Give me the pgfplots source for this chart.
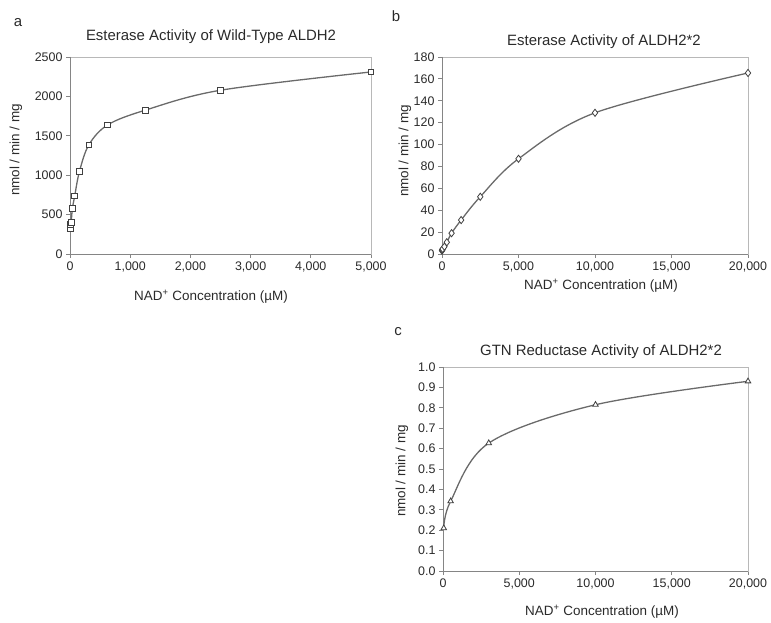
\documentclass[border=0pt]{standalone}
\usepackage{pgfplots}
\pgfplotsset{compat=1.18}
\usepackage{fontspec}
\setmainfont{Liberation Sans}

\definecolor{linegray}{HTML}{6A6A6A}
\definecolor{framegray}{HTML}{B8B8B8}
\definecolor{axisgray}{HTML}{858585}
\definecolor{txt}{HTML}{2A2A2A}

\pgfplotsset{
  panel/.style={
    scale only axis,
    anchor=south west,
    axis line style={framegray, line width=0.8bp},
    tick align=outside,
    xtick pos=bottom, ytick pos=left,
    major tick length=4bp,
    tick style={axisgray, line width=0.8bp},
    ticklabel style={font=\fontsize{12.5}{14}\selectfont, text=txt},
    /pgf/number format/assume math mode=true,
    scaled ticks=false,
    clip=false,
  },
  datacurve/.style={
    draw=linegray, line width=1.3bp, smooth, tension=0.55,
    mark options={draw=black!75, fill=white, line width=0.8bp, solid},
  },
}
\newcommand{\lbl}{\fontsize{13.5}{15}\selectfont}
\newcommand{\ttl}{\fontsize{15}{17}\selectfont}

\begin{document}
\begin{tikzpicture}[x=1bp,y=1bp]
\path (0,0) rectangle (771,622);

% a
\begin{axis}[panel, at={(70bp,368bp)}, width=301bp, height=197bp,
  xmin=0, xmax=5000, ymin=0, ymax=2500,
  xtick={0,1000,...,5000}, ytick={0,500,...,2500},
  x tick label style={/pgf/number format/1000 sep={,}},
  y tick label style={/pgf/number format/1000 sep={}}]
\draw[axisgray, line width=0.8bp] (rel axis cs:0,1) -- (rel axis cs:0,0) -- (rel axis cs:1,0);
\addplot[datacurve, mark=square*, mark size=2.8bp] coordinates {
  (5,318) (10,372) (20,402) (39,575) (78,735) (156,1045) (313,1385)
  (625,1638) (1250,1825) (2500,2078) (5000,2310)
};
\end{axis}

% b
\begin{axis}[panel, at={(442bp,368bp)}, width=306bp, height=197bp,
  xmin=0, xmax=20000, ymin=0, ymax=180,
  xtick={0,5000,...,20000}, ytick={0,20,...,180},
  x tick label style={/pgf/number format/1000 sep={,}}]
\draw[axisgray, line width=0.8bp] (rel axis cs:0,1) -- (rel axis cs:0,0) -- (rel axis cs:1,0);
\addplot[datacurve, mark=diamond*, mark size=3.6bp] coordinates {
  (0,3) (10,3.5) (20,4) (39,4.6) (156,6.7) (313,10.7) (625,19) (1250,31)
  (2500,52.3) (5000,87) (10000,129) (20000,165.4)
};
\end{axis}

% c
\begin{axis}[panel, at={(443bp,51bp)}, width=305bp, height=204bp,
  xmin=0, xmax=20000, ymin=0, ymax=1,
  xtick={0,5000,...,20000}, ytick={0,0.1,...,1.0},
  x tick label style={/pgf/number format/1000 sep={,}},
  y tick label style={/pgf/number format/.cd, fixed, fixed zerofill, precision=1}]
\draw[axisgray, line width=0.8bp] (rel axis cs:0,1) -- (rel axis cs:0,0) -- (rel axis cs:1,0);
\addplot[datacurve, mark=triangle*, mark size=3.2bp] coordinates {
  (50,0.21) (500,0.342) (3000,0.627) (10000,0.815) (20000,0.93)
};
\end{axis}

% panel letters, titles, axis labels
\node[font=\ttl, text=txt] at (18,599) {a};
\node[font=\ttl, text=txt] at (396,606) {b};
\node[font=\ttl, text=txt] at (398,290) {c};

\node[font=\ttl, text=txt] at (211,585) {Esterase Activity of Wild-Type ALDH2};
\node[font=\ttl, text=txt] at (604,580) {Esterase Activity of ALDH2*2};
\node[font=\ttl, text=txt] at (601,270) {GTN Reductase Activity of ALDH2*2};

\node[font=\lbl, text=txt, rotate=90] at (16,472) {nmol / min / mg};
\node[font=\lbl, text=txt, rotate=90] at (405,471) {nmol / min / mg};
\node[font=\lbl, text=txt, rotate=90] at (402,151) {nmol / min / mg};

\node[font=\lbl, text=txt] at (211,325) {NAD\textsuperscript{+} Concentration (µM)};
\node[font=\lbl, text=txt] at (601,336) {NAD\textsuperscript{+} Concentration (µM)};
\node[font=\lbl, text=txt] at (602,10) {NAD\textsuperscript{+} Concentration (µM)};
\end{tikzpicture}
\end{document}
